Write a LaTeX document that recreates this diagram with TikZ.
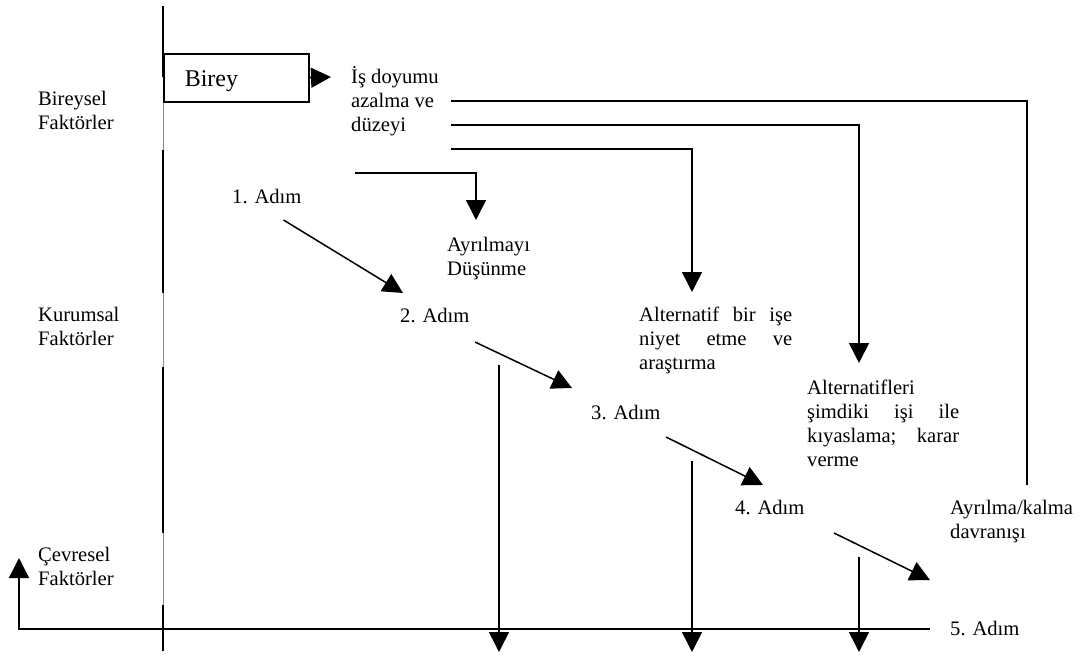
\documentclass[tikz,border=0pt]{standalone}
\usepackage{fontspec}
\setmainfont{Liberation Serif}
\usetikzlibrary{arrows.meta}
\begin{document}
\begin{tikzpicture}[x=1pt,y=-1pt,
  ln/.style={line width=1.5pt},
  arr/.style={line width=1.5pt,-{Triangle[length=20pt,width=20pt]}},
  txt/.style={anchor=north west,inner sep=0pt,align=left,font=\fontsize{20.6}{24}\selectfont},
  divthin/.style={line width=0.6pt,black!45},
]
\useasboundingbox (0,0) rectangle (1091,657);

% divider
\draw[divthin] (163,6) -- (163,651);
\draw[ln] (163,6) -- (163,77);
\draw[ln] (163,150) -- (163,293);
\draw[ln] (163,367) -- (163,533);
\draw[ln] (163,605) -- (163,651);

% side labels
\node[txt] (bir) at (38,88) {\strut Bireysel\\\strut Faktörler};
\node[txt] (kur) at (38,304) {\strut Kurumsal\\\strut Faktörler};
\node[txt] (cev) at (38,544) {\strut Çevresel\\\strut Faktörler};

% Birey box
\node[draw, line width=1.5pt, anchor=north west, minimum width=145pt, minimum height=48pt,
      inner xsep=21pt, inner ysep=0pt, text width=103pt, align=left,
      text height=22pt, text depth=5.2pt,
      font=\fontsize{24}{28}\selectfont] (birey) at (163,53) {Birey};

% texts
\node[txt] (isd) at (351,66) {\strut İş doyumu\\\strut azalma ve\\\strut düzeyi};
\node[txt] (a1) at (232,186) {\strut 1. Adım};
\node[txt] (ayr) at (447,234) {\strut Ayrılmayı\\\strut Düşünme};
\node[txt] (a2) at (400,305) {\strut 2. Adım};
\node[txt] (alt) at (639,304) {\hbox to 153pt{\strut Alternatif\hfill bir\hfill işe}\\\hbox to 153pt{\strut niyet\hfill etme\hfill ve}\\\strut araştırma};
\node[txt] (a3) at (591,402) {\strut 3. Adım};
\node[txt] (kiy) at (807,377) {\strut Alternatifleri\\\hbox to 152pt{\strut şimdiki\hfill işi\hfill ile}\\\hbox to 152pt{\strut kıyaslama;\hfill karar}\\\strut verme};
\node[txt] (a4) at (735,497) {\strut 4. Adım};
\node[txt] (dav) at (950,497) {\strut Ayrılma/kalma\\\strut davranışı};
\node[txt] (a5) at (950,618) {\strut 5. Adım};

% coordinates
\coordinate (bt) at (331,77);
\coordinate (la0) at (451,101); \coordinate (la1) at (1027,101); \coordinate (la2) at (1027,485);
\coordinate (lb0) at (451,125); \coordinate (lb1) at (859,125); \coordinate (lb2) at (859,363);
\coordinate (lc0) at (451,149); \coordinate (lc1) at (692,149); \coordinate (lc2) at (692,292);
\coordinate (ld0) at (355,173); \coordinate (ld1) at (476,173); \coordinate (ld2) at (476,220);
\coordinate (d10) at (283.5,220); \coordinate (d11) at (403,293);
\coordinate (d20) at (475,342); \coordinate (d21) at (572,388);
\coordinate (d30) at (666,437); \coordinate (d31) at (763,485);
\coordinate (d40) at (834,533); \coordinate (d41) at (930,580);
\coordinate (v10) at (499,365); \coordinate (v11) at (499,652);
\coordinate (v20) at (692,461); \coordinate (v21) at (692,652);
\coordinate (v30) at (859,557); \coordinate (v31) at (859,652);
\coordinate (h0) at (929.5,629); \coordinate (h1) at (19,629); \coordinate (h2) at (19,558);

% connectors
\draw[arr] (birey.east) -- (bt);
\draw[ln] (la0) -- (la1) -- (la2);
\draw[arr] (lb0) -- (lb1) -- (lb2);
\draw[arr] (lc0) -- (lc1) -- (lc2);
\draw[arr] (ld0) -- (ld1) -- (ld2);
\draw[arr] (d10) -- (d11);
\draw[arr] (d20) -- (d21);
\draw[arr] (d30) -- (d31);
\draw[arr] (d40) -- (d41);
\draw[arr] (v10) -- (v11);
\draw[arr] (v20) -- (v21);
\draw[arr] (v30) -- (v31);
\draw[arr] (h0) -- (h1) -- (h2);
\end{tikzpicture}
\end{document}
